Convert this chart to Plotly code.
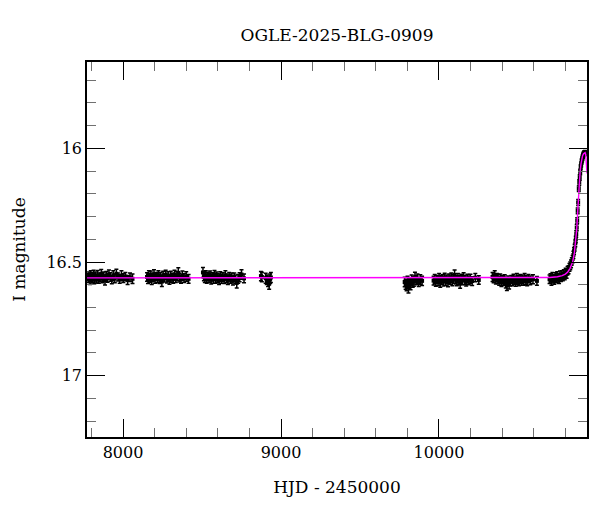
import plotly.graph_objects as go

# ---------------- data ----------------
s1_t = [7779, 7785, 7791, 7796, 7802, 7808, 7814, 7820, 7827, 7833, 7840, 7847, 7854, 7862, 7870, 7878, 7886,
        7894, 7902, 7911, 7920, 7929, 7938, 7948, 7958, 7968, 7979, 7990, 8002, 8015, 8029, 8044, 8060]
s1_m = [16.571, 16.562, 16.579, 16.558, 16.575, 16.568, 16.555, 16.577, 16.564, 16.573, 16.559, 16.576, 16.567,
        16.553, 16.574, 16.563, 16.580, 16.560, 16.570, 16.555, 16.566, 16.578, 16.559, 16.572, 16.552, 16.566,
        16.575, 16.560, 16.571, 16.564, 16.579, 16.567, 16.574]
s1_e = [0.019, 0.018, 0.020, 0.019, 0.017, 0.021, 0.019, 0.018, 0.020, 0.019, 0.022, 0.018, 0.019, 0.020, 0.017,
        0.019, 0.021, 0.018, 0.019, 0.020, 0.019, 0.018, 0.021, 0.019, 0.020, 0.018, 0.019, 0.022, 0.019, 0.018,
        0.020, 0.019, 0.021]

s2_t = [8152, 8158, 8164, 8170, 8176, 8182, 8189, 8196, 8203, 8210, 8217, 8224, 8231, 8238, 8246, 8254, 8262,
        8270, 8278, 8286, 8294, 8302, 8310, 8318, 8326, 8334, 8342, 8350, 8358, 8367, 8376, 8386, 8400, 8415]
s2_m = [16.566, 16.575, 16.557, 16.571, 16.561, 16.580, 16.568, 16.554, 16.574, 16.563, 16.571, 16.558, 16.577,
        16.565, 16.586, 16.560, 16.570, 16.556, 16.573, 16.564, 16.579, 16.559, 16.569, 16.575, 16.555, 16.572,
        16.562, 16.548, 16.569, 16.576, 16.560, 16.571, 16.564, 16.574]
s2_e = [0.019, 0.020, 0.018, 0.019, 0.021, 0.019, 0.018, 0.020, 0.019, 0.017, 0.019, 0.020, 0.018, 0.019, 0.022,
        0.019, 0.018, 0.020, 0.019, 0.021, 0.019, 0.018, 0.020, 0.019, 0.019, 0.018, 0.020, 0.023, 0.019, 0.018,
        0.020, 0.019, 0.021, 0.019]

s3_t = [8506, 8512, 8518, 8524, 8530, 8537, 8544, 8551, 8558, 8565, 8572, 8579, 8586, 8593, 8600, 8608, 8616,
        8624, 8632, 8640, 8648, 8656, 8664, 8672, 8680, 8688, 8696, 8704, 8712, 8720, 8729, 8738, 8750, 8766]
s3_m = [16.546, 16.564, 16.572, 16.558, 16.575, 16.563, 16.570, 16.560, 16.578, 16.565, 16.573, 16.556, 16.576,
        16.564, 16.571, 16.580, 16.561, 16.574, 16.566, 16.577, 16.559, 16.572, 16.579, 16.564, 16.575, 16.568,
        16.582, 16.566, 16.576, 16.592, 16.574, 16.567, 16.555, 16.572]
s3_e = [0.022, 0.019, 0.018, 0.020, 0.019, 0.018, 0.019, 0.020, 0.019, 0.018, 0.021, 0.019, 0.018, 0.020, 0.019,
        0.019, 0.018, 0.020, 0.019, 0.018, 0.021, 0.019, 0.020, 0.018, 0.019, 0.020, 0.019, 0.018, 0.019, 0.022,
        0.019, 0.020, 0.021, 0.019]

s4_t = [8873, 8879, 8903, 8910, 8918, 8925, 8931, 8936]
s4_m = [16.562, 16.566, 16.571, 16.578, 16.585, 16.596, 16.574, 16.568]
s4_e = [0.020, 0.021, 0.022, 0.021, 0.023, 0.024, 0.021, 0.022]

s5_t = [9783, 9789, 9795, 9801, 9807, 9813, 9820, 9827, 9834, 9841, 9848, 9856, 9864, 9872, 9882, 9893]
s5_m = [16.588, 16.598, 16.604, 16.583, 16.612, 16.593, 16.600, 16.578, 16.591, 16.586, 16.567, 16.580, 16.574,
        16.588, 16.577, 16.583]
s5_e = [0.021, 0.022, 0.023, 0.020, 0.024, 0.021, 0.022, 0.021, 0.020, 0.021, 0.022, 0.020, 0.021, 0.020, 0.021,
        0.020]

s6_t = [9966, 9973, 9980, 9987, 9994, 10001, 10008, 10015, 10022, 10029, 10036, 10043, 10050, 10057, 10064, 10071,
        10078, 10085, 10092, 10099, 10106, 10113, 10120, 10127, 10134, 10141, 10148, 10156, 10164, 10172, 10180,
        10189, 10199, 10210, 10230, 10252]
s6_m = [16.582, 16.575, 16.588, 16.577, 16.585, 16.570, 16.590, 16.580, 16.574, 16.586, 16.569, 16.583, 16.575,
        16.589, 16.572, 16.581, 16.567, 16.584, 16.574, 16.557, 16.578, 16.586, 16.570, 16.580, 16.594, 16.573,
        16.582, 16.566, 16.579, 16.587, 16.572, 16.581, 16.574, 16.584, 16.569, 16.579]
s6_e = [0.019, 0.020, 0.019, 0.018, 0.020, 0.019, 0.021, 0.019, 0.018, 0.020, 0.019, 0.019, 0.018, 0.020, 0.019,
        0.018, 0.019, 0.020, 0.019, 0.022, 0.019, 0.018, 0.019, 0.020, 0.021, 0.019, 0.018, 0.019, 0.020, 0.019,
        0.018, 0.019, 0.020, 0.019, 0.018, 0.019]

s7_t = [10339, 10346, 10353, 10360, 10367, 10374, 10381, 10388, 10395, 10402, 10409, 10416, 10423, 10430, 10437,
        10444, 10451, 10458, 10465, 10472, 10479, 10486, 10493, 10500, 10507, 10514, 10521, 10528, 10535, 10542,
        10550, 10558, 10567, 10578, 10595, 10620]
s7_m = [16.566, 16.572, 16.559, 16.578, 16.569, 16.575, 16.583, 16.571, 16.588, 16.578, 16.584, 16.574, 16.593,
        16.602, 16.581, 16.597, 16.587, 16.577, 16.585, 16.573, 16.580, 16.588, 16.571, 16.579, 16.586, 16.574,
        16.582, 16.576, 16.584, 16.570, 16.579, 16.585, 16.573, 16.581, 16.576, 16.583]
s7_e = [0.020, 0.019, 0.021, 0.019, 0.018, 0.020, 0.019, 0.018, 0.020, 0.019, 0.019, 0.018, 0.021, 0.023, 0.019,
        0.022, 0.019, 0.018, 0.020, 0.019, 0.018, 0.019, 0.020, 0.019, 0.018, 0.019, 0.020, 0.019, 0.018, 0.019,
        0.020, 0.019, 0.018, 0.019, 0.020, 0.019]

s8_t = [10700, 10706, 10712, 10718, 10724, 10730, 10736, 10742, 10748, 10754, 10760, 10766, 10772, 10778, 10784,
        10790, 10796, 10802, 10808, 10814, 10820, 10826, 10831, 10836, 10841, 10846, 10851, 10855, 10859, 10863,
        10866, 10869, 10872, 10875, 10878, 10881, 10885, 10888, 10891, 10894, 10897, 10900, 10903, 10906, 10909,
        10912, 10915, 10918, 10921, 10924]
s8_m = [16.576, 16.570, 16.582, 16.565, 16.574, 16.579, 16.567, 16.573, 16.562, 16.570, 16.576, 16.560, 16.568,
        16.557, 16.565, 16.553, 16.560, 16.547, 16.553, 16.538, 16.534, 16.524, 16.517, 16.508, 16.497, 16.487,
        16.469, 16.452, 16.437, 16.418, 16.401, 16.377, 16.349, 16.318, 16.275, 16.238, 16.178, 16.150, 16.128,
        16.104, 16.083, 16.071, 16.058, 16.049, 16.040, 16.033, 16.027, 16.024, 16.021, 16.020]
s8_e = [0.019, 0.018, 0.020, 0.019, 0.018, 0.019, 0.020, 0.018, 0.019, 0.018, 0.019, 0.020, 0.018, 0.019, 0.018,
        0.019, 0.018, 0.019, 0.018, 0.018, 0.018, 0.017, 0.017, 0.017, 0.016, 0.016, 0.016, 0.015, 0.015, 0.015,
        0.014, 0.014, 0.014, 0.013, 0.013, 0.013, 0.012, 0.012, 0.012, 0.012, 0.011, 0.011, 0.011, 0.011, 0.011,
        0.011, 0.011, 0.011, 0.011, 0.011]

model_t = [7772, 10600, 10700, 10750, 10780, 10800, 10815, 10830, 10846, 10857, 10867, 10872, 10878, 10883,
           10888, 10893, 10899, 10904, 10909, 10915, 10920, 10925, 10929, 10932, 10935, 10937]
model_m = [16.570, 16.570, 16.568, 16.565, 16.560, 16.553, 16.544, 16.528, 16.500, 16.460, 16.405, 16.355,
           16.280, 16.210, 16.150, 16.105, 16.068, 16.046, 16.032, 16.024, 16.020, 16.019, 16.028, 16.050, 16.085,
           16.110]

title_text = "OGLE-2025-BLG-0909"
x_label = "HJD - 2450000"
y_label = "I magnitude"

hjd = s1_t + s2_t + s3_t + s4_t + s5_t + s6_t + s7_t + s8_t
imag = s1_m + s2_m + s3_m + s4_m + s5_m + s6_m + s7_m + s8_m
ierr = s1_e + s2_e + s3_e + s4_e + s5_e + s6_e + s7_e + s8_e

FONT = "DejaVu Serif"

fig = go.Figure()
fig.add_trace(go.Scatter(
    x=hjd, y=imag, mode="markers",
    marker=dict(symbol="square", size=4, color="black"),
    error_y=dict(type="data", array=ierr, color="black", thickness=1.5, width=2),
    showlegend=False, hoverinfo="skip"))
fig.add_trace(go.Scatter(
    x=model_t, y=model_m, mode="lines",
    line=dict(color="#ff00ff", width=1.4),
    showlegend=False, hoverinfo="skip"))

axis_common = dict(
    showline=True, linecolor="black", linewidth=1.5, mirror="ticks",
    ticks="inside", ticklen=18, tickwidth=1, tickcolor="black",
    showgrid=False, zeroline=False, automargin=False,
    tickfont=dict(family=FONT, size=16, color="black"),
)

fig.update_xaxes(
    range=[7772, 10937], tickmode="linear", tick0=0, dtick=1000, tickformat="d",
    minor=dict(tickmode="linear", tick0=0, dtick=200, ticks="inside", ticklen=9,
               tickcolor="#707070", tickwidth=1, showgrid=False),
    title=dict(text=x_label, font=dict(family=FONT, size=17, color="black"), standoff=20),
    **axis_common)
fig.update_yaxes(
    range=[17.27, 15.62], tickmode="linear", tick0=0, dtick=0.5,
    minor=dict(tickmode="linear", tick0=0, dtick=0.1, ticks="inside", ticklen=9,
               tickcolor="#707070", tickwidth=1, showgrid=False),
    title=dict(text=y_label, font=dict(family=FONT, size=17, color="black"), standoff=16),
    **axis_common)

# the page body adds an 8 px margin, so the figure is 592x504 and offsets account for it
fig.update_layout(
    width=592, height=504,
    margin=dict(l=79, r=13, t=54, b=75),
    paper_bgcolor="white", plot_bgcolor="white",
    font=dict(family=FONT, size=16, color="black"),
    title=dict(text=title_text, x=0.5, xref="paper", xanchor="center",
               y=1 - 27 / 504, yref="container", yanchor="middle",
               font=dict(family=FONT, size=17, color="black")),
    showlegend=False,
)

fig.write_html("out.html")
